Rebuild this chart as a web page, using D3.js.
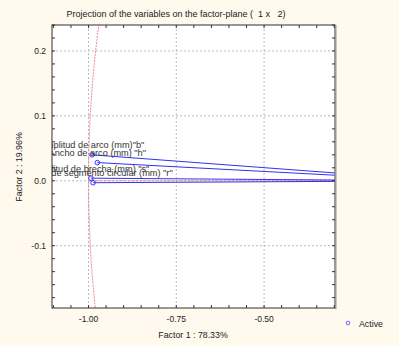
<!DOCTYPE html>
<html><head><meta charset="utf-8">
<script src="https://cdn.jsdelivr.net/npm/d3@7"></script>
<style>
body{margin:0;background:#fff9ee;}
text{font-family:"Liberation Sans",Arial,sans-serif;fill:#222;white-space:pre;}
</style></head>
<body><svg id="c" width="399" height="346"></svg>
<script>
const variables = ['Amplitud de arco (mm)"b"', 'Ancho de arco (mm) "h"', 'Amplitud de brecha (mm) "s"', 'Longitud de segmento circular (mm) "r"'];
const factor1 = [-0.990, -0.975, -0.993, -0.987];
const factor2 = [0.040, 0.028, 0.004, -0.003];
const xTicks = [-1.00, -0.75, -0.50];
const xTickLabels = ["-1.00", "-0.75", "-0.50"];
const yTicks = [-0.1, 0.0, 0.1, 0.2];
const yTickLabels = ["-0.1", "0.0", "0.1", "0.2"];
const title = "Projection of the variables on the factor-plane (  1 x   2)";
const xTitle = "Factor 1 : 78.33%";
const yTitle = "Factor 2 : 19.96%";
const legendLabel = "Active";

const svg = d3.select("#c");
svg.append("rect").attr("width",399).attr("height",346).attr("fill","#fff9ee");
const L=52,R=335,T=25,B=308;
const x = d3.scaleLinear().domain([-1.104,-0.298]).range([L,R]);
const y = d3.scaleLinear().domain([-0.196,0.24]).range([B,T]);

svg.append("defs").append("clipPath").attr("id","clip").append("rect")
  .attr("x",L).attr("y",T).attr("width",R-L).attr("height",B-T);
svg.append("rect").attr("x",L).attr("y",T).attr("width",R-L).attr("height",B-T).attr("fill","#fff");

const g = svg.append("g").attr("clip-path","url(#clip)");
// grid
xTicks.forEach(v=>g.append("line").attr("x1",x(v)).attr("x2",x(v)).attr("y1",T).attr("y2",B)
  .attr("stroke","#bbb").attr("stroke-width",1).attr("stroke-dasharray","2,2"));
yTicks.forEach(v=>g.append("line").attr("x1",L).attr("x2",R).attr("y1",y(v)).attr("y2",y(v))
  .attr("stroke","#bbb").attr("stroke-width",1).attr("stroke-dasharray","2,2"));

// unit circle
const angles = d3.range(0, 2*Math.PI+0.001, 0.002);
g.append("path").datum(angles)
  .attr("d", d3.line().x(a=>x(Math.cos(a))).y(a=>y(Math.sin(a))))
  .attr("fill","none").attr("stroke","#f08080").attr("stroke-width",1).attr("stroke-dasharray","2,1");
g.append("line").attr("x1",x(-1)).attr("x2",x(0)).attr("y1",y(0)).attr("y2",y(0))
  .attr("stroke","#f08080").attr("stroke-width",1).attr("stroke-dasharray","2,1");

// vectors
variables.forEach((v,i)=>{
  g.append("line").attr("x1",x(factor1[i])).attr("y1",y(factor2[i])).attr("x2",x(0)).attr("y2",y(0))
    .attr("stroke","#1a1aee").attr("stroke-width",0.9);
});
variables.forEach((v,i)=>{
  g.append("circle").attr("cx",x(factor1[i])).attr("cy",y(factor2[i])).attr("r",2.3)
    .attr("fill","none").attr("stroke","#3333ff").attr("stroke-width",1);
  g.append("text").attr("x",x(factor1[i])).attr("y",y(factor2[i])-6.5)
    .attr("text-anchor","middle").attr("font-size",9.2).style("fill","#333").text(v);
});

// frame
svg.append("rect").attr("x",L).attr("y",T).attr("width",R-L).attr("height",B-T)
  .attr("fill","none").attr("stroke","#333").attr("stroke-width",1);
svg.append("line").attr("x1",R+0.5).attr("x2",R+0.5).attr("y1",T).attr("y2",B+1)
  .attr("stroke","#999").attr("stroke-width",2);

// minor ticks
const xMinor = d3.range(-1.10, -0.299, 0.05);
xMinor.forEach(v=>{
  svg.append("line").attr("x1",x(v)).attr("x2",x(v)).attr("y1",B).attr("y2",B-3).attr("stroke","#333");
  svg.append("line").attr("x1",x(v)).attr("x2",x(v)).attr("y1",T).attr("y2",T+3).attr("stroke","#333");
});
const yMinor = d3.range(-0.18, 0.241, 0.02);
yMinor.forEach(v=>{
  svg.append("line").attr("x1",L).attr("x2",L+3).attr("y1",y(v)).attr("y2",y(v)).attr("stroke","#333");
  svg.append("line").attr("x1",R).attr("x2",R-3).attr("y1",y(v)).attr("y2",y(v)).attr("stroke","#333");
});

// tick labels
xTicks.forEach((v,i)=>svg.append("text").attr("x",x(v)).attr("y",322).attr("text-anchor","middle")
  .attr("font-size",8.5).text(xTickLabels[i]));
yTicks.forEach((v,i)=>svg.append("text").attr("x",46).attr("y",y(v)+3).attr("text-anchor","end")
  .attr("font-size",8.5).text(yTickLabels[i]));

svg.append("text").attr("x",176).attr("y",17).attr("text-anchor","middle").attr("font-size",9).text(title);
svg.append("text").attr("x",193).attr("y",338).attr("text-anchor","middle").attr("font-size",8.8).text(xTitle);
svg.append("text").attr("transform","translate(22,167) rotate(-90)").attr("text-anchor","middle")
  .attr("font-size",8.8).text(yTitle);

// legend
svg.append("circle").attr("cx",348).attr("cy",323).attr("r",1.8).attr("fill","none").attr("stroke","#6666ff");
svg.append("text").attr("x",359).attr("y",327).attr("font-size",8.8).text(legendLabel);
</script></body></html>
